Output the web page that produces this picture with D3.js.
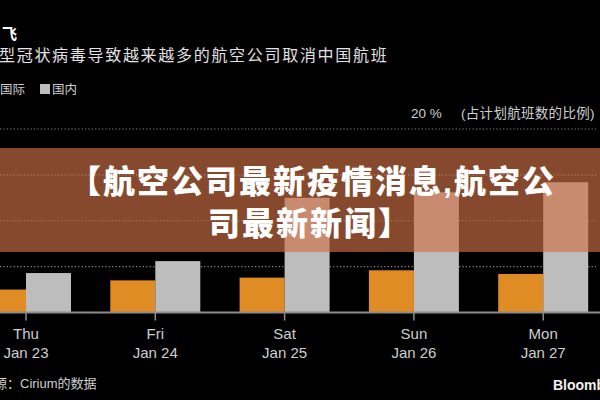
<!DOCTYPE html>
<html><head><meta charset="utf-8">
<script src="https://cdn.jsdelivr.net/npm/d3@7"></script>
<style>
html,body{margin:0;padding:0;background:#000;}
svg{display:block;}
text{font-family:"Liberation Sans","Noto Sans CJK SC",sans-serif;}
</style></head>
<body>
<svg id="chart" width="600" height="400"></svg>
<script>
// ---- data ----
const days = ["Thu", "Fri", "Sat", "Sun", "Mon"];
const dates = ["Jan 23", "Jan 24", "Jan 25", "Jan 26", "Jan 27"];
const seriesNames = ["国际", "国内"];
const intl = [2.5, 3.5, 3.8, 4.6, 4.2];
const domestic = [4.3, 5.6, 12.5, 13.1, 14.2];
const gridTicks = [5, 10, 15, 20];
const titleTail = "飞";
const subtitle = "型冠状病毒导致越来越多的航空公司取消中国航班";
const unitValue = "20 %";
const unitNote = "(占计划航班数的比例)";
const source = "源：Cirium的数据";
const brand = "Bloomberg";
const bannerLines = ["【航空公司最新疫情消息,航空公", "司最新新闻】"];

const colors = {"国际": "#e08c24", "国内": "#bdbdbd"};

const svg = d3.select("#chart");
svg.append("rect").attr("width", 600).attr("height", 400).attr("fill", "#000");

const band = 129.3;
const x = d3.scaleBand().domain(days).range([26 - band / 2, 26 - band / 2 + band * days.length]).padding(0);
const x1 = d3.scaleBand().domain(seriesNames).range([-45, 45]).padding(0);
const y = d3.scaleLinear().domain([0, 20]).range([312.5, 129]);

// gridlines
svg.append("g").selectAll("line").data(gridTicks).join("line")
  .attr("x1", 0).attr("x2", 596)
  .attr("y1", d => y(d)).attr("y2", d => y(d))
  .attr("stroke", "#8a8a8a").attr("stroke-width", 1.2)
  .attr("stroke-dasharray", "1.2,2.2");

// bars
const rows = days.map((d, i) => ({day: d, values: [
  {key: "国际", v: intl[i]}, {key: "国内", v: domestic[i]}]}));
const g = svg.append("g").selectAll("g").data(rows).join("g")
  .attr("transform", d => `translate(${x(d.day) + x.bandwidth() / 2},0)`);
g.selectAll("rect").data(d => d.values).join("rect")
  .attr("x", d => x1(d.key))
  .attr("width", x1.bandwidth())
  .attr("y", d => y(d.v))
  .attr("height", d => y(0) - y(d.v))
  .attr("fill", d => colors[d.key]);

// x axis
const xAxis = d3.axisBottom(x).tickSize(8).tickFormat("");
const ax = svg.append("g").attr("transform", `translate(0,${y(0)})`).call(xAxis);
ax.select(".domain").remove();
ax.selectAll(".tick line").attr("stroke", "#8c8c8c").attr("stroke-width", 1.5);
svg.append("line").attr("x1", 0).attr("x2", 600).attr("y1", y(0)).attr("y2", y(0))
  .attr("stroke", "#8c8c8c").attr("stroke-width", 2);
const lbl = svg.append("g").selectAll("text").data(days).join("text")
  .attr("x", d => x(d) + x.bandwidth() / 2)
  .attr("text-anchor", "middle")
  .attr("fill", "#cfcfcf").attr("font-size", 15);
lbl.append("tspan").attr("x", d => x(d) + x.bandwidth() / 2).attr("y", 339).text(d => d);
lbl.append("tspan").attr("x", d => x(d) + x.bandwidth() / 2).attr("y", 358).text((d, i) => dates[i]);

// header
svg.append("text").attr("x", 2).attr("y", 39).attr("fill", "#fff")
  .attr("font-size", 15).attr("font-weight", "bold")
  .style("font-family", "'Noto Sans CJK SC'").text(titleTail);
svg.append("text").attr("x", -1).attr("y", 61).attr("fill", "#e2e2e2")
  .attr("font-size", 16).attr("letter-spacing", 1.7)
  .style("font-family", "'Noto Sans CJK SC'").text(subtitle);

// legend
const legX = [-12, 40];
const leg = svg.append("g").selectAll("g").data(seriesNames).join("g")
  .attr("transform", (d, i) => `translate(${legX[i]},84)`);
leg.append("rect").attr("width", 10).attr("height", 10).attr("fill", d => colors[d]);
leg.append("text").attr("x", 12).attr("y", 10).attr("fill", "#cfcfcf")
  .attr("font-size", 12.5).style("font-family", "'Noto Sans CJK SC'").text(d => d);

// unit label
svg.append("text").attr("x", 411).attr("y", 118).attr("fill", "#cfcfcf")
  .attr("font-size", 13.5).text(unitValue);
svg.append("text").attr("x", 461).attr("y", 118).attr("fill", "#cfcfcf")
  .attr("font-size", 13.5).attr("letter-spacing", 0.3)
  .style("font-family", "'Liberation Sans','Noto Sans CJK SC'").text(unitNote);

// footer
svg.append("text").attr("x", -6).attr("y", 388).attr("fill", "#cfcfcf")
  .attr("font-size", 13).style("font-family", "'Liberation Sans','Noto Sans CJK SC'").text(source);
svg.append("text").attr("x", 553).attr("y", 390).attr("fill", "#f2f2f2")
  .attr("font-size", 14).attr("font-weight", "bold").text(brand);

// banner overlay
svg.append("rect").attr("x", 0).attr("y", 148).attr("width", 600).attr("height", 104)
  .attr("fill", "rgb(208,112,69)").attr("fill-opacity", 0.65);
const bt = svg.append("g").style("font-family", "'Noto Sans CJK SC'")
  .attr("font-weight", 900).attr("font-size", 32).attr("letter-spacing", 2).attr("fill", "#fff");
bt.append("text").attr("x", 69).attr("y", 193).text(bannerLines[0]);
bt.append("text").attr("x", 208).attr("y", 235).text(bannerLines[1]);
</script>
</body></html>
